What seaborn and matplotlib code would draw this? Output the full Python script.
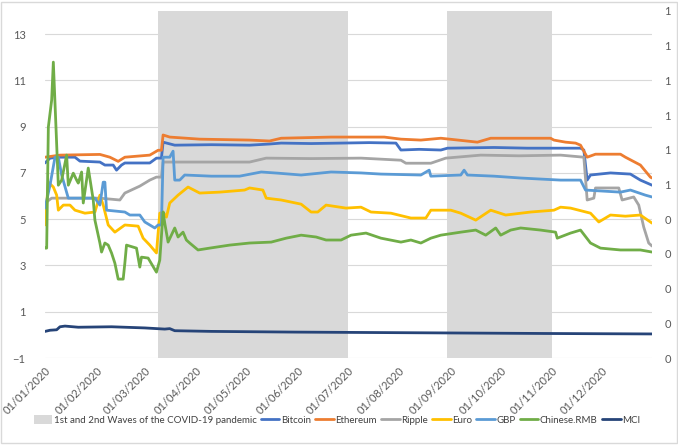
import numpy as np
import pandas as pd
import seaborn as sns
import matplotlib
matplotlib.use('Agg')
from matplotlib import pyplot as plt
from matplotlib.patches import Patch, Rectangle
from matplotlib.lines import Line2D
import matplotlib.dates as mdates
from matplotlib.ticker import FuncFormatter

# day offsets from 01/01/2020 and values
btc_days = [0, 3, 9, 18, 21, 33, 36, 41, 43, 46, 48, 63, 67, 70, 71, 78, 100, 123, 135, 142, 160, 178, 195, 211, 214, 225, 238, 242, 270, 290, 306, 322, 324, 326, 328, 340, 352, 358, 365]
btc = [7.43, 7.64, 7.68, 7.68, 7.51, 7.47, 7.34, 7.34, 7.12, 7.34, 7.43, 7.43, 7.64, 7.64, 8.33, 8.2, 8.22, 8.2, 8.25, 8.29, 8.27, 8.29, 8.31, 8.29, 7.99, 8.02, 7.99, 8.07, 8.1, 8.07, 8.07, 8.07, 7.99, 6.69, 6.91, 7.0, 6.95, 6.69, 6.47]

eth_days = [0, 9, 33, 39, 44, 48, 63, 68, 70, 71, 75, 93, 123, 135, 142, 172, 204, 214, 226, 238, 260, 268, 304, 306, 313, 319, 322, 326, 331, 346, 349, 358, 364, 365]
eth = [7.68, 7.77, 7.8, 7.68, 7.5, 7.68, 7.77, 7.98, 7.98, 8.64, 8.55, 8.46, 8.42, 8.38, 8.5, 8.55, 8.55, 8.46, 8.42, 8.5, 8.33, 8.5, 8.5, 8.42, 8.33, 8.29, 8.2, 7.68, 7.81, 7.81, 7.68, 7.34, 6.82, 6.78]

xrp_days = [0, 4, 33, 39, 45, 48, 57, 63, 67, 70, 71, 93, 123, 133, 160, 190, 214, 217, 232, 241, 262, 285, 310, 324, 326, 330, 331, 345, 347, 354, 357, 360, 363, 365]
xrp = [5.7, 5.91, 5.91, 5.87, 5.83, 6.13, 6.43, 6.69, 6.82, 6.82, 7.47, 7.47, 7.47, 7.64, 7.62, 7.64, 7.55, 7.42, 7.42, 7.64, 7.77, 7.74, 7.77, 7.68, 5.83, 5.91, 6.35, 6.35, 5.83, 5.96, 5.61, 4.66, 3.97, 3.84]

eur_days = [0, 2, 5, 7, 8, 11, 15, 18, 24, 30, 33, 35, 38, 42, 48, 56, 59, 63, 67, 69, 71, 73, 75, 80, 86, 93, 105, 120, 123, 131, 133, 142, 154, 160, 164, 169, 181, 190, 196, 208, 220, 229, 232, 244, 250, 259, 268, 277, 292, 306, 310, 316, 328, 333, 340, 349, 358, 365]
eur = [4.75, 6.6, 6.39, 6.04, 5.39, 5.61, 5.61, 5.39, 5.26, 5.31, 6.04, 5.61, 4.75, 4.44, 4.75, 4.7, 4.18, 3.88, 3.54, 5.26, 5.31, 5.09, 5.7, 6.04, 6.39, 6.13, 6.17, 6.26, 6.35, 6.26, 5.91, 5.83, 5.65, 5.31, 5.31, 5.61, 5.48, 5.52, 5.31, 5.26, 5.05, 5.05, 5.39, 5.39, 5.26, 4.96, 5.39, 5.18, 5.31, 5.39, 5.52, 5.48, 5.26, 4.88, 5.18, 5.13, 5.18, 4.83]

gbp_days = [0, 3, 6, 8, 10, 14, 21, 30, 33, 35, 36, 37, 48, 51, 57, 60, 66, 68, 70, 71, 75, 77, 78, 81, 84, 100, 117, 130, 140, 154, 172, 190, 202, 226, 231, 232, 250, 252, 254, 270, 286, 310, 322, 325, 346, 352, 361, 365]
gbp = [5.48, 6.47, 7.68, 7.68, 6.91, 5.91, 5.91, 5.91, 5.61, 6.6, 6.6, 5.39, 5.31, 5.18, 5.18, 4.88, 4.62, 4.75, 4.75, 7.68, 7.68, 7.94, 6.69, 6.69, 6.91, 6.86, 6.86, 7.04, 6.99, 6.91, 7.04, 7.0, 6.95, 6.91, 7.12, 6.86, 6.91, 7.12, 6.91, 6.86, 6.78, 6.69, 6.69, 6.26, 6.17, 6.26, 6.04, 5.96]

rmb_days = [0, 1, 2, 4, 5, 8, 10, 13, 14, 17, 19, 20, 22, 23, 26, 29, 30, 33, 34, 36, 38, 40, 42, 44, 47, 48, 49, 55, 57, 58, 62, 67, 69, 71, 72, 74, 78, 80, 83, 85, 87, 92, 99, 111, 123, 136, 145, 154, 163, 169, 178, 184, 193, 202, 214, 220, 226, 232, 238, 250, 259, 265, 271, 274, 280, 286, 298, 307, 308, 316, 322, 328, 334, 346, 358, 365]
rmb = [3.75, 3.75, 8.98, 10.15, 11.79, 6.47, 6.69, 7.77, 6.47, 6.99, 6.69, 6.56, 7.04, 5.7, 7.21, 5.83, 4.96, 3.97, 3.58, 3.97, 3.88, 3.54, 3.1, 2.41, 2.41, 3.1, 3.88, 3.75, 2.93, 3.36, 3.32, 2.71, 3.23, 5.31, 4.83, 4.01, 4.62, 4.23, 4.44, 4.1, 3.97, 3.67, 3.75, 3.88, 3.97, 4.01, 4.18, 4.31, 4.23, 4.1, 4.1, 4.31, 4.4, 4.18, 4.01, 4.1, 3.97, 4.18, 4.31, 4.44, 4.53, 4.31, 4.62, 4.31, 4.53, 4.62, 4.53, 4.44, 4.18, 4.4, 4.53, 3.97, 3.75, 3.67, 3.67, 3.58]

mci_days = [0, 3, 7, 9, 12, 20, 40, 60, 72, 75, 78, 100, 150, 200, 250, 300, 365]
mci = [0.15, 0.2, 0.22, 0.35, 0.38, 0.33, 0.35, 0.3, 0.25, 0.27, 0.18, 0.15, 0.12, 0.1, 0.08, 0.06, 0.04]

series_names = ['Bitcoin', 'Ethereum', 'Ripple', 'Euro', 'GBP', 'Chinese.RMB', 'MCI']
colors = ['#4472C4', '#ED7D31', '#A5A5A5', '#FFC000', '#5B9BD5', '#70AD47', '#264478']
waves = [('2020-03-09', '2020-07-01'), ('2020-08-30', '2020-11-01')]
wave_label = '1st and 2nd Waves of the COVID-19 pandemic'

start = pd.Timestamp('2020-01-01')
frames = []
for name, d, v in zip(series_names,
                      [btc_days, eth_days, xrp_days, eur_days, gbp_days, rmb_days, mci_days],
                      [btc, eth, xrp, eur, gbp, rmb, mci]):
    frames.append(pd.DataFrame({'date': start + pd.to_timedelta(d, unit='D'),
                                'value': v, 'series': name}))
df = pd.concat(frames, ignore_index=True)

sns.set_style('white')
plt.rcParams['font.family'] = ['Lato', 'DejaVu Sans']

fig = plt.figure(figsize=(6.78, 4.45), dpi=100)
ax = fig.add_axes([0.0664, 0.1955, 0.8953, 0.7798])

for a, b in waves:
    ax.axvspan(pd.Timestamp(a), pd.Timestamp(b), color='#D9D9D9', lw=0, zorder=1)

sns.lineplot(data=df, x='date', y='value', hue='series', hue_order=series_names,
             palette=colors, linewidth=2, ax=ax, legend=False, zorder=3)

ax.set_xlim(pd.Timestamp('2020-01-01'), pd.Timestamp('2020-12-31'))
ax.set_ylim(-1, 14)
ax.set_yticks(np.arange(-1, 14, 2))
ax.yaxis.grid(True, color='#D9D9D9', lw=0.8)
ax.set_axisbelow(True)
ax.set_xlabel('')
ax.set_ylabel('')
for s in ax.spines.values():
    s.set_visible(False)

ax.xaxis.set_major_locator(mdates.MonthLocator())
ax.xaxis.set_major_formatter(mdates.DateFormatter('%d/%m/%Y'))
ax.tick_params(axis='both', length=0, labelsize=8, colors='#595959')
ax.tick_params(axis='x', pad=5)
ax.tick_params(axis='y', pad=14)
for lbl in ax.get_xticklabels():
    lbl.set_rotation(45)
    lbl.set_ha('right')
    lbl.set_va('top')
    lbl.set_rotation_mode('anchor')

ax2 = ax.twinx()
ax2.set_ylim(0, 1)
ax2.set_yticks(np.linspace(0, 1, 11))
ax2.yaxis.set_major_formatter(FuncFormatter(lambda v, p: str(int(v + 0.5))))
ax2.tick_params(axis='y', length=0, labelsize=8, colors='#595959', pad=9)
for s in ax2.spines.values():
    s.set_visible(False)

handles = [Patch(facecolor='#D9D9D9', edgecolor='none', label=wave_label)]
handles += [Line2D([0], [0], color=c, lw=2, label=n) for n, c in zip(series_names, colors)]
fig.legend(handles=handles, loc='center', bbox_to_anchor=(0.497, 0.056), ncol=8, frameon=False,
           fontsize=7, handlelength=1.9, handleheight=1.0, handletextpad=0.15, columnspacing=0.45,
           labelcolor='#404040')

fig.patches.append(Rectangle((0.002, 0.004), 0.996, 0.992, transform=fig.transFigure,
                             fill=False, edgecolor='#D9D9D9', lw=1))

plt.savefig('out.png', dpi=100)
